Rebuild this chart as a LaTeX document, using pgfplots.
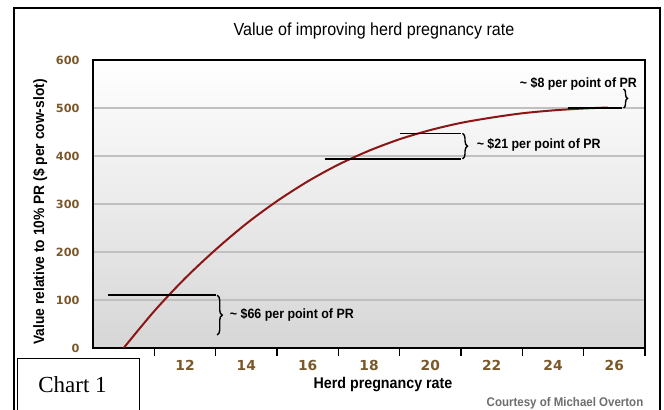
\documentclass[border=0pt]{standalone}
\usepackage{fontspec}
\setmainfont{Liberation Sans}[FakeStretch=0.92]
\newfontfamily\tickfont{DejaVu Sans}
\newfontfamily\chartfont{Liberation Serif}
\usepackage{pgfplots}
\pgfplotsset{compat=1.18}
\usetikzlibrary{decorations.pathreplacing}
\definecolor{tickbrown}{RGB}{122,88,42}
\definecolor{curvered}{RGB}{140,22,22}
\definecolor{gridgray}{RGB}{192,192,192}
\definecolor{courtgray}{RGB}{110,110,110}
\begin{document}
\begin{tikzpicture}
\clip (0,0) rectangle (664bp,410bp);
\fill[white] (0,0) rectangle (664bp,410bp);
\draw[line width=2bp] (13.5bp,-10bp) rectangle (660bp,402bp);
\begin{axis}[
  at={(93bp,62bp)}, anchor=south west,
  scale only axis, width=552bp, height=288bp,
  xmin=9, xmax=27, ymin=0, ymax=600,
  axis line style={line width=2bp},
  axis background/.style={shade, top color=white, middle color=white, bottom color=black!16},
  xtick={11,13,...,27}, xticklabels={},
  extra x ticks={12,14,...,26},
  extra x tick labels={12,14,16,18,20,22,24,26},
  extra x tick style={major tick length=0pt, xticklabel style={yshift=-9bp}},
  ytick={0,100,...,600},
  ymajorgrids=true,
  major grid style={gridgray, line width=1.5bp},
  xtick pos=bottom, ytick pos=left,
  tick align=outside, major tick length=8bp,
  xtick style={black, line width=1.5bp},
  ytick style={draw=none},
  /pgf/number format/assume math mode=true,
  xticklabel style={font=\tickfont\bfseries\fontsize{13.8bp}{15bp}\selectfont, text=tickbrown},
  yticklabel style={font=\tickfont\bfseries\fontsize{11.3bp}{13bp}\selectfont, text=tickbrown, xshift=-2bp},
]
\addplot[curvered, line width=2bp, smooth] coordinates {
 (10,0) (11,77) (12,145) (13,205) (14,259) (15,306) (16,347) (17,382) (18,411) (19,435) (20,454) (21,469) (22,480) (23,489) (24,495) (25,499) (25.8,501)
};
% bracket 1
\draw[line width=1.4bp] (axis cs:9.5,110) -- (axis cs:13.0,110);
\draw[line width=1.4bp, decorate, decoration={brace, amplitude=5bp}] (axis cs:13.05,110) -- (axis cs:13.05,27);
\node[anchor=west, font=\bfseries\fontsize{13.5bp}{15bp}\selectfont] at (axis cs:13.35,69) {\textasciitilde{} \$66 per point of PR};
% bracket 2
\draw[line width=1.4bp] (axis cs:19,447) -- (axis cs:21,447);
\draw[line width=1.4bp] (axis cs:16.55,394) -- (axis cs:21,394);
\draw[line width=1.4bp, decorate, decoration={brace, amplitude=5bp}] (axis cs:21.05,447) -- (axis cs:21.05,394);
\node[anchor=west, font=\bfseries\fontsize{13.5bp}{15bp}\selectfont] at (axis cs:21.4,423) {\textasciitilde{} \$21 per point of PR};
% bracket 3
\draw[line width=1.4bp] (axis cs:24.5,500) -- (axis cs:26.25,500);
\draw[line width=1.4bp, decorate, decoration={brace, amplitude=4bp}] (axis cs:26.3,540) -- (axis cs:26.3,500);
\node[anchor=east, font=\bfseries\fontsize{13.5bp}{15bp}\selectfont] at (axis cs:26.85,551) {\textasciitilde{} \$8 per point of PR};
\end{axis}
\node[anchor=base, font=\fontsize{17.5bp}{20bp}\selectfont] at (374bp,374bp) {Value of improving herd pregnancy rate};
\node[anchor=base, font=\bfseries\fontsize{15.5bp}{18bp}\selectfont] at (383bp,22bp) {Herd pregnancy rate};
\node[rotate=90, font=\bfseries\fontsize{15bp}{18bp}\selectfont] at (40bp,198bp) {Value relative to 10\% PR (\$ per cow-slot)};
\node[anchor=base, font=\bfseries\fontsize{12.5bp}{14bp}\selectfont, text=courtgray] at (565bp,3.5bp) {Courtesy of Michael Overton};
\draw[fill=white, line width=1bp] (17.3bp,51.7bp) rectangle (139.3bp,-5bp);
\node[anchor=base, font=\chartfont\fontsize{23bp}{26bp}\selectfont] at (72.5bp,18bp) {Chart 1};
\end{tikzpicture}
\end{document}
